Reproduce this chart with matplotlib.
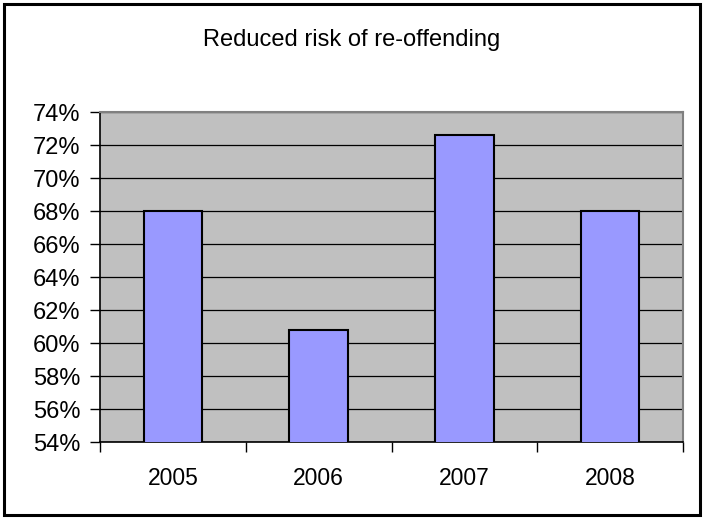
import matplotlib
matplotlib.use("Agg")
import matplotlib.pyplot as plt
from matplotlib.patches import Rectangle
from matplotlib.ticker import FuncFormatter, MultipleLocator, FixedLocator

# Data
years = ["2005", "2006", "2007", "2008"]
reduced_risk = [68.0, 60.8, 72.6, 68.0]  # percent

plt.rcParams['font.family'] = ['Liberation Sans', 'DejaVu Sans']

fig = plt.figure(figsize=(7.05, 5.19), dpi=100)
ax = fig.add_axes([100 / 705, 1 - 442 / 519, 583 / 705, 330 / 519])

# chart frame
fig.patches.append(Rectangle((4 / 705, 4 / 519), 696 / 705, 511 / 519,
                             transform=fig.transFigure, fill=False,
                             edgecolor='black', linewidth=2.2))

ax.set_facecolor('#C0C0C0')
x = range(len(years))
ax.bar(x, reduced_risk, width=0.4, bottom=0, color='#9999FF',
       edgecolor='black', linewidth=1.5, zorder=3)

ax.set_ylim(54, 74)
ax.set_xlim(-0.5, len(years) - 0.5)
ax.yaxis.set_major_locator(MultipleLocator(2))
ax.yaxis.set_major_formatter(FuncFormatter(lambda v, p: f"{v:.0f}%"))
ax.grid(axis='y', color='black', linewidth=0.9, zorder=1)

ax.set_xticks(list(x))
ax.set_xticklabels(years)
ax.xaxis.set_minor_locator(FixedLocator([i - 0.5 for i in range(len(years) + 1)]))
ax.tick_params(axis='x', which='major', length=0, pad=18, labelsize=16.5)
ax.tick_params(axis='x', which='minor', length=7, width=1, direction='out')
ax.tick_params(axis='y', length=7, width=1, direction='out', pad=7, labelsize=17)

ax.spines['left'].set_color('black')
ax.spines['bottom'].set_color('black')
ax.spines['left'].set_linewidth(1.2)
ax.spines['bottom'].set_linewidth(1.2)
ax.spines['top'].set_color('#808080')
ax.spines['right'].set_color('#808080')
ax.spines['top'].set_linewidth(1.5)
ax.spines['right'].set_linewidth(1.5)

fig.text(352 / 705, 1 - 40 / 519, "Reduced risk of re-offending",
         ha='center', va='center', fontsize=17)

fig.savefig("out.png", dpi=100)
